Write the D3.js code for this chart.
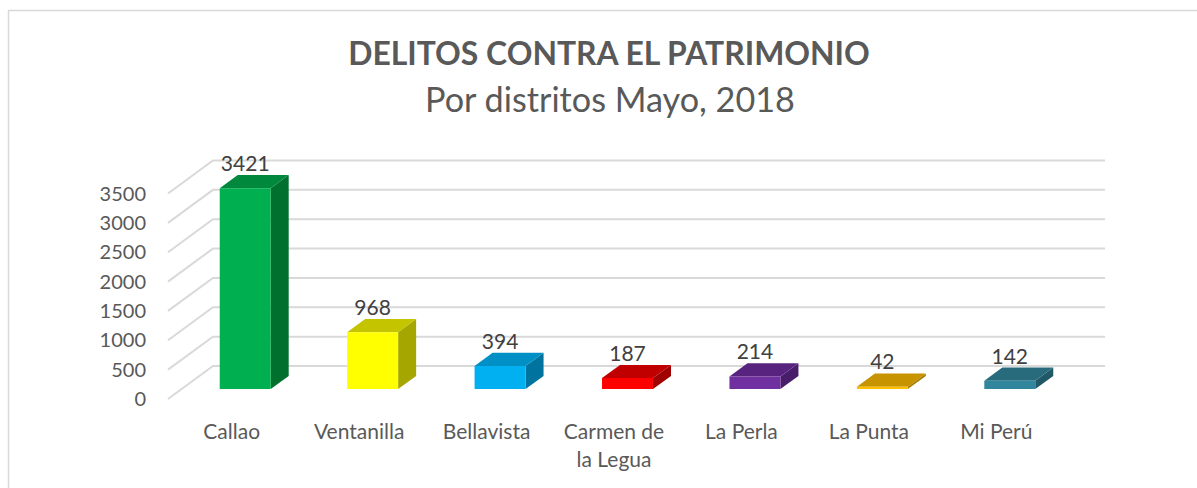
<!DOCTYPE html>
<html><head><meta charset="utf-8">
<script src="https://cdn.jsdelivr.net/npm/d3@7"></script>
<style>
html,body{margin:0;padding:0;background:#fff;}
svg{display:block;font-family:Lato,"Open Sans",sans-serif;}
</style></head>
<body>
<svg id="chart" width="1197" height="488"></svg>
<script>
const categories = ["Callao","Ventanilla","Bellavista","Carmen de la Legua","La Perla","La Punta","Mi Perú"];
const categoryLines = [["Callao"],["Ventanilla"],["Bellavista"],["Carmen de","la Legua"],["La Perla"],["La Punta"],["Mi Perú"]];
const values = [3421, 968, 394, 187, 214, 42, 142];
const frontColors = ["#00b050","#ffff00","#00b0f0","#ff0000","#7030a0","#ffc000","#31859c"];
const topColors   = ["#00893d","#c4c400","#0090c5","#c00000","#58237f","#c79400","#276b7d"];
const sideColors  = ["#00702f","#a6a600","#00739e","#a00000","#4a1d6b","#a77c00","#205867"];
const yTicks = [0,500,1000,1500,2000,2500,3000,3500];
const titleText = "DELITOS CONTRA EL PATRIMONIO";
const subtitleText = "Por distritos Mayo, 2018";

const svg = d3.select("#chart");

// chart frame
svg.append("rect").attr("x",8.5).attr("y",10.5).attr("width",1300).attr("height",600)
  .attr("fill","none").attr("stroke","#d9d9d9").attr("stroke-width",1.5);

// projection
const DX = 45, DY = -33;
const x = d3.scaleBand().domain(categories).range([168,1060]).paddingInner(0.6).paddingOuter(0.3);
const y = d3.scaleLinear().domain([0,3500]).range([399,193.5]);
const P = (px, v, z) => [px + DX*z, y(v) + DY*z];

// gridlines: side wall diagonals + back wall
const grid = svg.append("g").attr("stroke","#d9d9d9").attr("stroke-width",2).attr("fill","none");
const xLeft = x.range()[0], xRight = x.range()[1];
yTicks.forEach(t => {
  const a = P(xLeft, t, 0), b = P(xLeft, t, 1), c = P(xRight, t, 1);
  grid.append("path").attr("d", d3.line()([a,b,c]));
});

// y tick labels
svg.append("g").selectAll("text").data(yTicks).join("text")
  .attr("x",146).attr("y",d=>y(d)+2).attr("text-anchor","end").attr("dominant-baseline","middle")
  .attr("font-size",20).attr("fill","#595959").text(d=>d);

// bars
const z0 = 0.3, z1 = 0.7;
const bars = svg.append("g");
categories.forEach((c,i) => {
  const v = values[i];
  const x0 = x(c), x1 = x(c) + x.bandwidth();
  const fbl = P(x0,0,z0), fbr = P(x1,0,z0), ftl = P(x0,v,z0), ftr = P(x1,v,z0);
  const bbr = P(x1,0,z1), btl = P(x0,v,z1), btr = P(x1,v,z1);
  bars.append("path").attr("d", d3.line()([fbr,bbr,btr,ftr]) + "Z").attr("fill", sideColors[i]);
  bars.append("path").attr("d", d3.line()([ftl,ftr,btr,btl]) + "Z").attr("fill", topColors[i]);
  bars.append("path").attr("d", d3.line()([fbl,fbr,ftr,ftl]) + "Z").attr("fill", frontColors[i]);
  const cx = (ftl[0]+ftr[0])/2;
  svg.append("text").attr("x",cx).attr("y",btl[1]-4).attr("text-anchor","middle")
    .attr("font-size",21).attr("fill","#404040").text(v);
});

// category labels
const catG = svg.append("g");
categories.forEach((c,i) => {
  const cx = x(c) + x.bandwidth()/2;
  const t = catG.append("text").attr("text-anchor","middle").attr("font-size",21).attr("fill","#595959");
  categoryLines[i].forEach((ln,j) => {
    t.append("tspan").attr("x",cx).attr("y",439 + j*28).text(ln);
  });
});

// titles, fitted to reference widths
function fitText(sel, target){
  const fs = +sel.attr("font-size");
  const w = sel.node().getComputedTextLength();
  sel.attr("font-size", fs*target/w);
}
const t1 = svg.append("text").attr("x",609).attr("y",65).attr("text-anchor","middle")
  .attr("font-weight","bold").attr("font-size",28).attr("fill","#595959").text(titleText);
fitText(t1, 522);
const t2 = svg.append("text").attr("x",610).attr("y",112).attr("text-anchor","middle")
  .attr("font-size",30).attr("fill","#595959").text(subtitleText);
fitText(t2, 370);
</script>
</body></html>
